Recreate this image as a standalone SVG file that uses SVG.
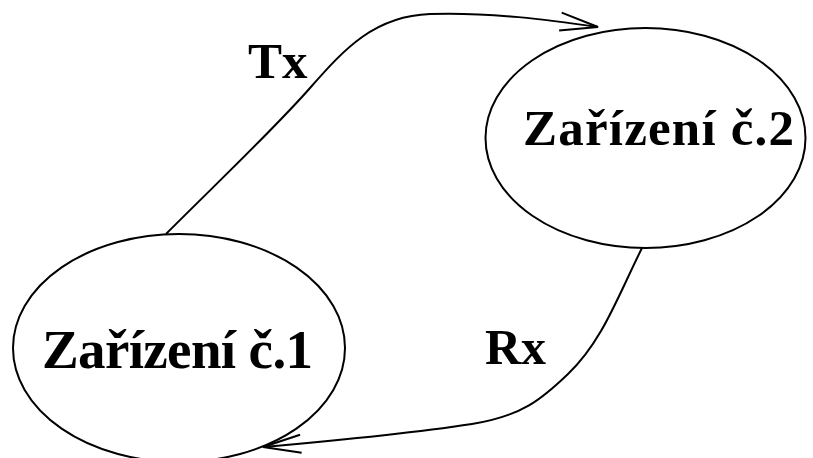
<svg xmlns="http://www.w3.org/2000/svg" width="813" height="458" viewBox="0 0 813 458">
<style>
.node{fill:#fff;stroke:#000;stroke-width:2}
.lbl{font-family:"Liberation Serif","Times New Roman",serif;font-weight:bold;fill:#000}
.edge{fill:none;stroke:#000;stroke-width:2}
</style>
<defs>
<marker id="arr" markerUnits="userSpaceOnUse" markerWidth="50" markerHeight="30" viewBox="-40 -15 50 30" refX="0" refY="0" orient="auto" overflow="visible">
<path d="M-38,-9 L0,0 L-38,9" fill="none" stroke="#000" stroke-width="2"/>
</marker>
</defs>
<rect width="813" height="458" fill="#fff"/>
<g id="connectors">
<path class="edge" d="M166,234 C220,180 275,128 310,88 C345,48 375,16 430,14 C490,12 550,20 598,27" marker-end="url(#arr)"/>
<path class="edge" d="M642,248 C618,296 602,342 568,374 C542,399 522,416 472,424 C400,435 320,442 263,447" marker-end="url(#arr)"/>
<text class="lbl" x="248" y="78" font-size="51">Tx</text>
<text class="lbl" x="485" y="364" font-size="50">Rx</text>
</g>
<g id="node1">
<ellipse class="node" cx="179" cy="348" rx="166" ry="114"/>
<text class="lbl" x="42" y="368" font-size="55" textLength="271" lengthAdjust="spacing">Zařízení č.1</text>
</g>
<g id="node2">
<ellipse class="node" cx="645.5" cy="138" rx="160" ry="110"/>
<text class="lbl" x="523" y="145" font-size="51" textLength="271" lengthAdjust="spacing">Zařízení č.2</text>
</g>
</svg>
